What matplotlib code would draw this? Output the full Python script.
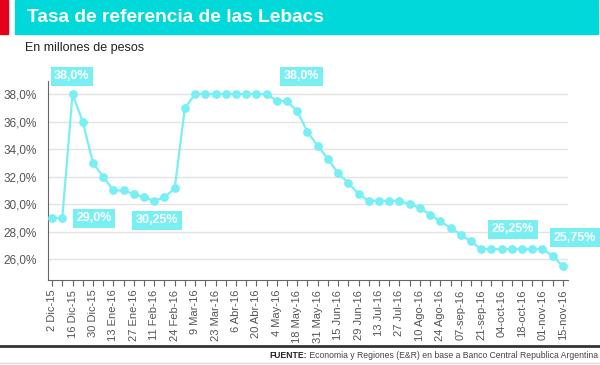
import matplotlib
matplotlib.use("Agg")
import matplotlib.pyplot as plt
from matplotlib.patches import Rectangle
from matplotlib import font_manager

# weekly Lebac rate (%), 2 Dic 2015 .. 15 nov 2016
tasas = [29.0, 29.0, 38.0, 36.0, 33.0, 32.0, 31.0, 31.0, 30.75, 30.5,
         30.25, 30.5, 31.15, 37.0, 38.0, 38.0, 38.0, 38.0, 38.0, 38.0,
         38.0, 38.0, 37.5, 37.5, 36.75, 35.25, 34.25, 33.3, 32.25, 31.55,
         30.75, 30.25, 30.25, 30.25, 30.25, 30.0, 29.75, 29.25, 28.75, 28.3,
         27.8, 27.3, 26.75, 26.75, 26.75, 26.75, 26.75, 26.75, 26.75, 26.25,
         25.5]
etiquetas_x = ["2 Dic-15", "16 Dic-15", "30 Dic-15", "13 Ene-16", "27 Ene-16",
               "11 Feb-16", "24 Feb-16", "9 Mar-16", "23 Mar-16", "6 Abr-16",
               "20 Abr-16", "4 May-16", "18 May-16", "31 May-16", "15 Jun-16",
               "29 Jun-16", "13 Jul-16", "27 Jul-16", "10 Ago-16", "24 Ago-16",
               "07-sep-16", "21-sep-16", "04-oct-16", "18-oct-16", "01-nov-16",
               "15-nov-16"]
yticks = [26, 28, 30, 32, 34, 36, 38]
notas = ["38,0%", "29,0%", "30,25%", "38,0%", "26,25%", "25,75%"]
notas_pos = [(1.95, 39.3), (4.1, 29.0), (10.25, 28.85), (24.4, 39.3),
             (45.1, 28.2), (51.2, 27.55)]

names = {f.name for f in font_manager.fontManager.ttflist}
narrow = "Liberation Sans Narrow" if "Liberation Sans Narrow" in names else "Liberation Sans"

cian = "#00D8DA"
claro = "#78EFF2"
gris = "#555555"

fig = plt.figure(figsize=(6.0, 3.65), dpi=100)
plt.rcParams["font.family"] = ["Liberation Sans", "DejaVu Sans"]

# header
fig.patches.append(Rectangle((0, 1 - 34 / 365), 8 / 600, 34 / 365, transform=fig.transFigure,
                             color="#E3001B", zorder=0))
fig.patches.append(Rectangle((15 / 600, 1 - 34 / 365), 583 / 600, 34 / 365, transform=fig.transFigure,
                             color=cian, zorder=0))
fig.text(27 / 600, 1 - 18 / 365, "Tasa de referencia de las Lebacs", color="white",
         fontsize=13.8, fontweight="bold", va="center", ha="left")
fig.text(25 / 600, 1 - 48 / 365, "En millones de pesos", color="#222222",
         fontsize=9, va="center", ha="left")

ax = fig.add_axes([48 / 600, 1 - 280 / 365, 520 / 600, 199 / 365])
x = list(range(len(tasas)))
ax.plot(x, tasas, color=claro, lw=1.6, marker="o", markersize=6.3,
        markeredgewidth=0, zorder=3, clip_on=False)

ax.set_xlim(-0.4, 50.5)
ax.set_ylim(24.5, 38.95)
ax.set_yticks(yticks)
ax.set_yticklabels([f"{v:.1f}%".replace(".", ",") for v in yticks], color=gris, fontsize=8.5)
ax.set_xticks(list(range(0, len(tasas), 2)))
ax.set_xticks(list(range(1, len(tasas), 2)), minor=True)
ax.set_xticklabels(etiquetas_x, rotation=90, color=gris, fontsize=8, family=narrow)
ax.tick_params(axis="x", which="both", length=4, width=0.8, color="#666666", direction="out", pad=3)
ax.tick_params(axis="y", length=0, pad=8)
ax.grid(axis="y", color="#E3E3E3", lw=1)
ax.set_axisbelow(True)
for s in ["top", "right"]:
    ax.spines[s].set_visible(False)
ax.spines["left"].set_color("#666666")
ax.spines["bottom"].set_color("#666666")
ax.spines["left"].set_linewidth(0.8)
ax.spines["bottom"].set_linewidth(0.8)

for txt, (px, py) in zip(notas, notas_pos):
    ax.text(px, py, txt, color="white", fontsize=9, fontweight="bold", family=narrow,
            ha="center", va="center", zorder=5,
            bbox=dict(boxstyle="square,pad=0.28", fc=claro, ec="none"))

# footer
fig.add_artist(plt.Line2D([0, 1], [1 - 346 / 365] * 2, transform=fig.transFigure,
                          color="#333333", lw=2))
fig.add_artist(plt.Line2D([0, 1], [1 - 363 / 365] * 2, transform=fig.transFigure,
                          color="#DDDDDD", lw=1))
resto = fig.text(598 / 600, 1 - 355 / 365,
                 " Economia y Regiones (E&R) en base a Banco Central Republica Argentina",
                 color="#444444", fontsize=6.2, family=narrow, ha="right", va="center")
fig.canvas.draw()
bb = resto.get_window_extent()
fig.text(bb.x0 / fig.bbox.width, 1 - 355 / 365, "FUENTE:", color="#222222",
         fontsize=6.2, fontweight="bold", family=narrow, ha="right", va="center")

fig.savefig("out.png", dpi=100)
